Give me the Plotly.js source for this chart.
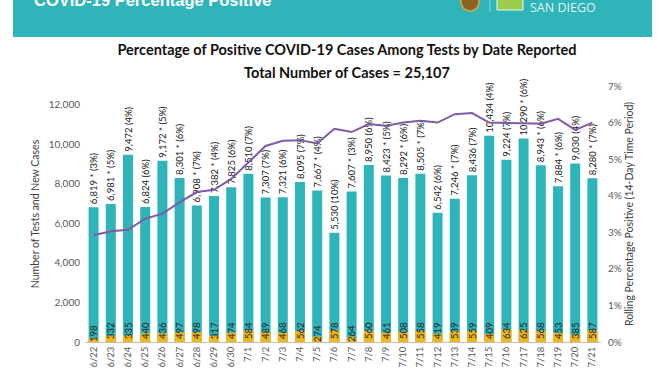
<!DOCTYPE html>
<html>
<head>
<meta charset="utf-8">
<script src="https://cdn.plot.ly/plotly-3.0.1.min.js"></script>
<style>html,body{margin:0;padding:0;background:#fff;}#chart{width:672px;height:372px;}</style>
</head>
<body>
<div id="chart"></div>
<script>
// ---- data ----
const dates = ["6/22","6/23","6/24","6/25","6/26","6/27","6/28","6/29","6/30","7/1","7/2","7/3","7/4","7/5","7/6","7/7","7/8","7/9","7/10","7/11","7/12","7/13","7/14","7/15","7/16","7/17","7/18","7/19","7/20","7/21"];
const tests = [6819,6981,9472,6824,9172,8301,6908,7382,7825,8510,7307,7321,8095,7667,5530,7607,8950,8423,8292,8505,6542,7246,8436,10434,9224,10290,8943,7884,9030,8280];
const dailyPct = [3,5,4,6,5,6,7,4,6,7,7,6,7,4,10,3,6,5,6,7,6,7,7,4,7,6,6,6,4,7];
const starred = [1,1,0,0,1,1,1,1,0,0,0,0,0,1,0,1,0,1,1,1,0,1,0,0,0,1,1,1,0,1];
const cases = [198,332,335,440,436,497,498,317,474,584,489,468,562,274,578,264,560,461,508,558,419,539,559,409,634,625,568,453,385,587];
const rollingPct = [2.92,3.03,3.07,3.37,3.51,3.82,4.10,4.16,4.46,4.91,5.36,5.50,5.52,5.43,5.83,5.74,5.96,5.91,6.00,6.05,6.00,6.23,6.26,6.00,6.00,5.98,5.97,6.10,5.80,6.00];
const chartTitle = "Percentage of Positive COVID-19 Cases Among Tests by Date Reported";
const chartSubtitle = "Total Number of Cases = 25,107";
const headerTitle = "COVID-19 Percentage Positive";

// ---- build ----
const W = 672, H = 372;
const m = {l: 85, r: 71, t: 86, b: 30};
const pw = W - m.l - m.r, ph = H - m.t - m.b;
const px = x => (x - m.l) / pw;
const py = y => (H - m.b - y) / ph;

const fmt = n => n.toLocaleString('en-US');
const testLabels = tests.map((v, i) => fmt(v) + (starred[i] ? ' * ' : ' ') + '(' + dailyPct[i] + '%)');
const caseLabels = cases.map(v => String(v));

const TEAL = '#2fb4ba', GOLD = '#f2b51a', PURPLE = '#7e5aa8', GREY = '#595959';
const FONT = 'Lato, "Open Sans", sans-serif';

const traces = [
  {
    type: 'bar', x: dates, y: tests, name: 'Tests',
    marker: {color: TEAL},
    text: testLabels, textposition: 'outside', textangle: -90,
    constraintext: 'none', cliponaxis: false,
    outsidetextfont: {family: FONT, size: 9.5, color: '#1a1a1a'},
    hoverinfo: 'x+y'
  },
  {
    type: 'bar', x: dates, y: cases, name: 'New Cases',
    marker: {color: GOLD},
    text: caseLabels, textposition: 'inside', insidetextanchor: 'start', textangle: -90,
    constraintext: 'none', cliponaxis: false,
    insidetextfont: {family: FONT, size: 9.5, color: '#222'},
    hoverinfo: 'x+y'
  },
  {
    type: 'scatter', mode: 'lines', x: dates, y: rollingPct, yaxis: 'y2', name: 'Rolling %',
    line: {color: PURPLE, width: 2}, cliponaxis: false
  }
];

const layout = {
  width: W, height: H, margin: m,
  paper_bgcolor: '#fff', plot_bgcolor: '#fff',
  showlegend: false, barmode: 'overlay', bargap: 0.42,
  font: {family: FONT, color: GREY},
  title: {
    text: '<b>' + chartTitle + '</b>',
    font: {family: FONT, size: 14.5, color: '#111'},
    x: px(347), xref: 'paper', xanchor: 'center',
    y: 1 - 50 / H, yref: 'container', yanchor: 'middle'
  },
  xaxis: {
    type: 'category', tickangle: -90, ticks: '', showline: true, linecolor: '#bfbfbf', linewidth: 1,
    tickfont: {family: FONT, size: 9.5, color: GREY}, showgrid: false, zeroline: false
  },
  yaxis: {
    range: [0, 12950], dtick: 2000, tickformat: ',d', showgrid: false, zeroline: false, showline: false,
    tickfont: {family: FONT, size: 10, color: GREY}, ticklabelstandoff: 4,
    title: {text: 'Number of Tests and New Cases', font: {family: FONT, size: 10.5, color: '#404040'}, standoff: 7}
  },
  yaxis2: {
    overlaying: 'y', side: 'right', range: [0, 7], dtick: 1, ticksuffix: '%',
    showgrid: false, zeroline: false, showline: false,
    tickfont: {family: FONT, size: 10, color: GREY}, ticklabelstandoff: 6,
    title: {text: 'Rolling Percentage Positive (14-Day Time Period)', font: {family: FONT, size: 10.5, color: '#404040'}, standoff: 4}
  },
  shapes: [
    {type: 'rect', xref: 'paper', yref: 'paper', x0: px(13), x1: px(652), y0: py(37), y1: py(-2), fillcolor: TEAL, line: {width: 0}, layer: 'below'},
    {type: 'circle', xref: 'paper', yref: 'paper', x0: px(461), x1: px(479), y0: py(11), y1: py(-7), fillcolor: '#8a6420', line: {color: '#d9a441', width: 1.5}},
    {type: 'line', xref: 'paper', yref: 'paper', x0: px(490), x1: px(490), y0: py(12), y1: py(-2), line: {color: '#8fd6d9', width: 1}},
    {type: 'rect', xref: 'paper', yref: 'paper', x0: px(497), x1: px(523), y0: py(10), y1: py(-2), fillcolor: '#9ccc4a', line: {color: '#e8f6f6', width: 1}}
  ],
  annotations: [
    {text: '<b>' + chartSubtitle + '</b>', xref: 'paper', yref: 'paper', x: px(347), y: py(72), xanchor: 'center', yanchor: 'middle',
     showarrow: false, font: {family: FONT, size: 14.5, color: '#111'}},
    {text: '<b>' + headerTitle + '</b>', xref: 'paper', yref: 'paper', x: px(32), y: py(0), xanchor: 'left', yanchor: 'middle',
     showarrow: false, font: {family: '"Liberation Sans", Arial, sans-serif', size: 16.5, color: '#ffffff'}},
    {text: 'SAN DIEGO', xref: 'paper', yref: 'paper', x: px(528), y: py(7), xanchor: 'left', yanchor: 'middle',
     showarrow: false, font: {family: '"Open Sans", sans-serif', size: 12.5, color: '#dff3f3'}}
  ]
};

Plotly.newPlot('chart', traces, layout, {displayModeBar: false, staticPlot: true});
</script>
</body>
</html>
